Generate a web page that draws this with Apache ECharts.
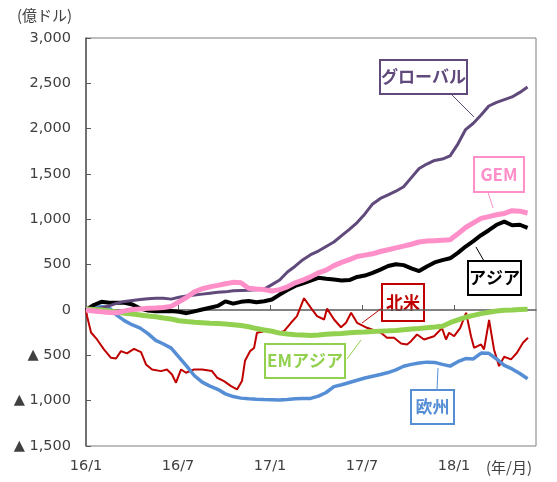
<!DOCTYPE html>
<html>
<head>
<meta charset="utf-8">
<script src="https://cdn.jsdelivr.net/npm/echarts@6/dist/echarts.min.js"></script>
<style>
  html, body { margin: 0; padding: 0; background: #fff; }
  #chart { width: 557px; height: 482px; }
</style>
</head>
<body>
<div id="chart"></div>
<script>
// months since 2016/1, roughly twice a month up to late May 2018
const steps = 58
const months = Array.from({ length: steps }, (_, i) => i * 28.8 / (steps - 1))

const globalFlow = [0, 10, 25, 45, 75, 95, 105, 115, 125, 130,
  130, 120, 140, 155, 165, 175, 185, 195, 200, 212,
  215, 218, 222, 230, 280, 330, 420, 483, 555, 610,
  650, 700, 750, 820, 890, 965, 1060, 1170, 1230, 1270,
  1310, 1360, 1460, 1560, 1610, 1650, 1665, 1700, 1830, 1990,
  2060, 2150, 2250, 2290, 2320, 2350, 2400, 2460]

const gemFlow = [0, -10, -20, -28, -30, -10, 5, 12, 18, 22,
  28, 40, 90, 140, 200, 235, 255, 272, 290, 305,
  300, 240, 232, 225, 210, 225, 255, 300, 330, 365,
  410, 440, 490, 525, 555, 590, 605, 620, 645, 665,
  685, 705, 725, 750, 760, 765, 770, 775, 840, 910,
  960, 1010, 1030, 1050, 1065, 1095, 1090, 1070]

const asiaFlow = [0, 55, 90, 80, 80, 80, 60, 15, -5, -15,
  -15, -12, -20, -35, -15, 5, 25, 45, 95, 70,
  90, 100, 85, 97, 116, 170, 220, 265, 295, 325,
  355, 345, 336, 325, 330, 365, 380, 410, 445, 485,
  505, 495, 460, 430, 480, 525, 550, 570, 630, 700,
  760, 825, 880, 940, 975, 935, 940, 905]

const emAsiaFlow = [10, 5, 0, -10, -25, -35, -45, -55, -65, -75,
  -88, -100, -118, -128, -135, -140, -146, -150, -155, -162,
  -170, -185, -205, -220, -235, -255, -265, -272, -275, -280,
  -275, -268, -262, -258, -252, -246, -242, -236, -233, -230,
  -226, -218, -210, -203, -195, -188, -180, -140, -110, -80,
  -60, -40, -25, -12, -3, 0, 5, 8]

const europeFlow = [0, 20, 38, 25, -60, -120, -165, -200, -260, -335,
  -375, -420, -520, -619, -725, -795, -840, -875, -925, -955,
  -972, -980, -985, -988, -990, -992, -988, -980, -975, -975,
  -950, -910, -845, -825, -800, -775, -750, -730, -711, -690,
  -660, -620, -600, -585, -575, -578, -600, -619, -570, -535,
  -540, -475, -478, -540, -610, -650, -700, -758]

// north america is spikier, so it keeps its own dates
const naMonths = [0, 0.07, 0.33, 0.72, 1.17, 1.63, 1.96, 2.28, 2.67, 3.13,
  3.59, 3.91, 4.31, 4.89, 5.28, 5.61, 5.87, 6.2, 6.52, 7.05,
  7.57, 8.22, 8.55, 9.0, 9.46, 9.85, 9.98, 10.18, 10.37, 10.7,
  10.96, 11.15, 11.48, 11.81, 12.46, 12.92, 13.37, 13.76, 14.22, 14.68,
  15.07, 15.53, 15.72, 16.18, 16.63, 16.96, 17.29, 17.68, 18.33, 19.24,
  19.63, 20.09, 20.55, 20.94, 21.2, 21.59, 22.05, 22.7, 23.22, 23.48,
  23.68, 24.01, 24.4, 24.79, 25.11, 25.31, 25.77, 25.96, 26.29, 26.61,
  26.94, 27.27, 27.72, 28.11, 28.5, 28.83]
const naFlow = [0, -68, -248, -325, -435, -527, -535, -454, -479, -428,
  -465, -600, -656, -674, -656, -711, -802, -656, -692, -656,
  -656, -674, -747, -784, -839, -876, -890, -780, -560, -454,
  -420, -251, -240, -215, -251, -233, -141, -68, 130, 20,
  -68, -105, 15, -105, -190, -141, -31, -141, -196, -251,
  -306, -306, -369, -380, -344, -270, -325, -289, -200, -325,
  -251, -289, -200, -31, -289, -417, -380, -435, -110, -435,
  -619, -516, -545, -472, -361, -306]

const xTicks = [0, 6, 12, 18, 24]
const yTicks = [-1500, -1000, -500, 0, 500, 1000, 1500, 2000, 2500, 3000]

const pair = (xs, ys) => ys.map((v, i) => [xs[i], v])

const fmtY = v => {
  const s = Math.abs(v).toLocaleString('en-US')
  return v < 0 ? '▲ ' + s : s
}
const fmtX = m => {
  if (!xTicks.includes(m)) return ''
  return (16 + Math.floor(m / 12)) + '/' + (m % 12 + 1)
}

const arrow = (color, from, to) => ({
  silent: true,
  symbol: ['none', 'arrow'],
  symbolSize: [0, 7],
  label: { show: false },
  lineStyle: { color, width: 1, type: 'solid' },
  animation: false,
  data: [[{ x: from[0], y: from[1] }, { x: to[0], y: to[1] }]]
})

const labelBox = (text, color, r) => ({
  type: 'group',
  z: 100,
  children: [
    { type: 'rect', shape: { x: r[0], y: r[1], width: r[2], height: r[3] },
      style: { fill: '#fff', stroke: color, lineWidth: 2 } },
    { type: 'text', x: r[0] + r[2] / 2, y: r[1] + r[3] / 2,
      style: { text, fill: color, font: 'bold 17px "Noto Sans CJK JP"', align: 'center', verticalAlign: 'middle' } }
  ]
})

const line = (name, data, color, width, extra) => Object.assign({
  name, type: 'line', data, showSymbol: false, symbol: 'none',
  lineStyle: { color, width }, itemStyle: { color }, animation: false
}, extra || {})

const chart = echarts.init(document.getElementById('chart'))
chart.setOption({
  backgroundColor: '#fff',
  textStyle: { fontFamily: 'DejaVu Sans' },
  grid: { left: 86, right: 21, top: 38, bottom: 36, show: true, borderColor: '#7f7f7f', borderWidth: 1, outerBoundsMode: 'none' },
  xAxis: {
    type: 'value', min: 0, max: 29.35, interval: 6,
    splitLine: { show: false },
    axisLine: { lineStyle: { color: '#595959', width: 1.5 } },
    axisTick: { inside: true, length: 5, lineStyle: { color: '#595959' } },
    axisLabel: { formatter: fmtX, color: '#404040', fontSize: 14.5, margin: 13, showMaxLabel: false }
  },
  yAxis: {
    type: 'value', min: yTicks[0], max: yTicks[yTicks.length - 1], interval: 500,
    splitLine: { show: false },
    axisLine: { show: true, lineStyle: { color: '#595959', width: 1.5 } },
    axisTick: { show: true, inside: true, length: 5, lineStyle: { color: '#595959' } },
    axisLabel: { formatter: fmtY, color: '#404040', fontSize: 14.5, margin: 15 }
  },
  series: [
    line('北米', pair(naMonths, naFlow), '#c00000', 2,
      { markLine: arrow('#c00000', [382, 308], [362, 323]) }),
    line('欧州', pair(months, europeFlow), '#558ed5', 3.5,
      { markLine: arrow('#558ed5', [437, 390], [438, 368]) }),
    line('アジア', pair(months, asiaFlow), '#000000', 4,
      { markLine: arrow('#000000', [484, 261], [476, 247]) }),
    line('グローバル', pair(months, globalFlow), '#604a7b', 3,
      { markLine: arrow('#604a7b', [452, 95], [474, 117]) }),
    line('EMアジア', pair(months, emAsiaFlow), '#92d050', 5,
      { markLine: arrow('#92d050', [347, 359], [361, 340]) }),
    line('GEM', pair(months, gemFlow), '#ff8fc8', 5,
      { markLine: arrow('#ff8fc8', [488, 192], [493, 208]) })
  ],
  graphic: [
    { type: 'text', x: 17, y: 8, style: { text: '(億ドル)', fill: '#404040', font: '15px "Noto Sans CJK JP"' } },
    { type: 'text', x: 486, y: 460, style: { text: '(年/月)', fill: '#404040', font: '15px "Noto Sans CJK JP"' } },
    labelBox('グローバル', '#604a7b', [380, 60, 87, 34]),
    labelBox('GEM', '#ff8fc8', [474, 157, 50, 35]),
    labelBox('アジア', '#000000', [468, 261, 53, 34]),
    labelBox('北米', '#c00000', [382, 284, 42, 37]),
    labelBox('EMアジア', '#92d050', [265, 344, 80, 34]),
    labelBox('欧州', '#558ed5', [411, 390, 43, 34])
  ]
})
</script>
</body>
</html>
